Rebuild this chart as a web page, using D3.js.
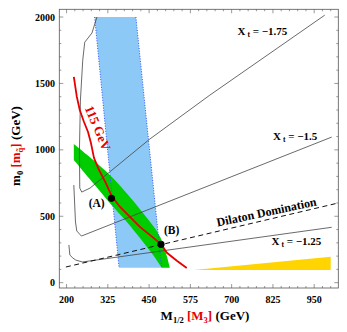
<!DOCTYPE html>
<html>
<head>
<meta charset="utf-8">
<script src="https://cdn.jsdelivr.net/npm/d3@7"></script>
<style>
  body { margin: 0; background: #fff; }
  text { font-family: "Liberation Serif", "Times New Roman", serif; font-weight: bold; }
</style>
</head>
<body>
<svg id="svg"></svg>
<script>

const width = 347;
const height = 332;

// axis ticks
const xTicks = [200, 325, 450, 575, 700, 825, 950];
const yTicks = [0, 500, 1000, 1500, 2000];

// regions (M1/2, m0) in GeV
const blueBand = [[285, 2000], [410, 2000], [488, 112], [359, 112]];
const greenUpper = [[222, 1044], [281, 923], [331, 810], [382, 673], [432, 522], [483, 346], [513, 113]];
const greenLower = [[222, 923], [281, 748], [336, 585], [382, 459], [427, 321], [462, 208], [488, 113]];
const yellowRegion = [[585, 95], [1000, 195], [1000, 95]];

// curves
const higgs115 = [[222, 1550], [231, 1400], [240, 1300], [252, 1215], [265, 1135], [274, 1050], [283, 940],
  [298, 850], [319, 750], [337, 650], [362, 570], [392, 495], [422, 420], [452, 360], [486, 290],
  [504, 225], [534, 165], [564, 110]];
const xt175 = [[292, 2000], [277, 1880], [255, 1810], [249, 1675], [242, 1375], [239, 1000], [240, 712],
  [246, 682], [271, 712], [452, 1081], [634, 1412], [982, 2014]];
const xt150 = [[222, 735], [224, 622], [227, 457], [231, 389], [245, 351], [1003, 1096]];
const xt125 = [[207, 284], [210, 208], [219, 186], [228, 170], [248, 156], [1003, 417]];
const dilaton = [[198, 118], [1018, 597]];

const benchmarks = [["(A)", 336, 635], ["(B)", 486, 289]];

const svg = d3.select("#svg")
  .attr("width", width)
  .attr("height", height);

const x = d3.scaleLinear().domain([178, 1023]).range([59.3, 338.3]);
const y = d3.scaleLinear().domain([-40, 2058]).range([288, 9.3]);

const line = d3.line().x(d => x(d[0])).y(d => y(d[1]));
const smooth = d3.line().x(d => x(d[0])).y(d => y(d[1])).curve(d3.curveCatmullRom);

const plot = svg.append("g");

// blue band
plot.append("path")
  .attr("d", line(blueBand) + "Z")
  .attr("fill", "#8cc9f7");

// green band
const greenPath = smooth(greenUpper) + smooth(greenLower.slice().reverse()).replace(/^M/, "L") + "Z";
plot.append("path")
  .attr("d", greenPath)
  .attr("fill", "#00cc00");

// blue edges dotted
[[blueBand[0], blueBand[3]], [blueBand[1], blueBand[2]]].forEach(seg => {
  plot.append("path")
    .attr("d", line(seg))
    .attr("fill", "none")
    .attr("stroke", "#3355ff")
    .attr("stroke-width", 1)
    .attr("stroke-dasharray", "1,1.6");
});

// yellow
plot.append("path")
  .attr("d", line(yellowRegion) + "Z")
  .attr("fill", "#ffd400");

// X_t contours
[xt175, xt150, xt125].forEach(c => {
  plot.append("path")
    .attr("d", line(c))
    .attr("fill", "none")
    .attr("stroke", "#444")
    .attr("stroke-width", 0.8);
});

// dilaton line
plot.append("path")
  .attr("d", line(dilaton))
  .attr("fill", "none")
  .attr("stroke", "#111")
  .attr("stroke-width", 1)
  .attr("stroke-dasharray", "5,3.5");

// higgs mass line
plot.append("path")
  .attr("d", line(higgs115))
  .attr("fill", "none")
  .attr("stroke", "#e60000")
  .attr("stroke-width", 1.8);

// benchmark points
plot.selectAll("circle")
  .data(benchmarks)
  .enter().append("circle")
  .attr("cx", d => x(d[1]))
  .attr("cy", d => y(d[2]))
  .attr("r", 3.6)
  .attr("fill", "#000");

plot.append("text").attr("x", x(291)).attr("y", y(570))
  .attr("text-anchor", "middle").attr("font-size", 11.5).text("(A)");
plot.append("text").attr("x", x(518)).attr("y", y(363))
  .attr("text-anchor", "middle").attr("font-size", 11.5).text("(B)");

// 115 GeV label
plot.append("text")
  .attr("transform", `translate(${x(295)},${y(1164)}) rotate(67)`)
  .attr("text-anchor", "middle")
  .attr("dominant-baseline", "central")
  .attr("font-size", 13)
  .attr("fill", "#e60000")
  .text("115 GeV");

// dilaton label
plot.append("text")
  .attr("transform", `translate(${x(808)},${y(502)}) rotate(-12)`)
  .attr("text-anchor", "middle")
  .attr("font-size", 12)
  .text("Dilaton Domination");

// X_t labels
const xtLabel = function(mx, my, val) {
  const t = plot.append("text")
    .attr("x", x(mx)).attr("y", y(my))
    .attr("font-size", 11);
  t.append("tspan").text("X");
  t.append("tspan").attr("dx", 2).attr("dy", 2).attr("font-size", 7.5).text("t");
  t.append("tspan").attr("dy", -2).text(" = \u22121." + val);
};
xtLabel(718, 1864, "75");
xtLabel(825, 1074, "5");
xtLabel(821, 284, "25");

// frame and ticks
const frame = svg.append("g");
frame.append("rect")
  .attr("x", x.range()[0]).attr("y", y.range()[1])
  .attr("width", x.range()[1] - x.range()[0])
  .attr("height", y.range()[0] - y.range()[1])
  .attr("fill", "none")
  .attr("stroke", "#555")
  .attr("stroke-width", 0.8);

const xMinor = d3.range(175, 1025, 25).filter(v => v >= x.domain()[0] && v <= x.domain()[1]);
const yMinor = d3.range(0, 2100, 100).filter(v => v <= y.domain()[1]);

xMinor.forEach(v => {
  const len = xTicks.includes(v) ? 4 : 2;
  [[y.range()[0], -len], [y.range()[1], len]].forEach(p => {
    frame.append("line")
      .attr("x1", x(v)).attr("x2", x(v))
      .attr("y1", p[0]).attr("y2", p[0] + p[1])
      .attr("stroke", "#555").attr("stroke-width", 0.6);
  });
});
yMinor.forEach(v => {
  const len = yTicks.includes(v) ? 4 : 2;
  [[x.range()[0], len], [x.range()[1], -len]].forEach(p => {
    frame.append("line")
      .attr("y1", y(v)).attr("y2", y(v))
      .attr("x1", p[0]).attr("x2", p[0] + p[1])
      .attr("stroke", "#555").attr("stroke-width", 0.6);
  });
});

frame.selectAll(".xl")
  .data(xTicks)
  .enter().append("text")
  .attr("x", d => x(d))
  .attr("y", 302.5)
  .attr("text-anchor", "middle")
  .attr("font-size", 10)
  .text(d => d);

frame.selectAll(".yl")
  .data(yTicks)
  .enter().append("text")
  .attr("x", 55)
  .attr("y", d => y(d) + 3.5)
  .attr("text-anchor", "end")
  .attr("font-size", 10)
  .text(d => d);

// axis titles
const xTitle = svg.append("text")
  .attr("x", 205).attr("y", 320)
  .attr("text-anchor", "middle")
  .attr("font-size", 13);
xTitle.append("tspan").text("M");
xTitle.append("tspan").attr("dy", 3).attr("font-size", 8.5).text("1/2");
xTitle.append("tspan").attr("dy", -3).attr("fill", "#e60000").text(" [M");
xTitle.append("tspan").attr("dy", 3).attr("font-size", 8.5).attr("fill", "#e60000").text("3");
xTitle.append("tspan").attr("dy", -3).attr("fill", "#e60000").text("]");
xTitle.append("tspan").text(" (GeV)");

const yTitle = svg.append("text")
  .attr("transform", "translate(20,146) rotate(-90)")
  .attr("text-anchor", "middle")
  .attr("font-size", 13);
yTitle.append("tspan").text("m");
yTitle.append("tspan").attr("dy", 3).attr("font-size", 8.5).text("0");
yTitle.append("tspan").attr("dy", -3).attr("fill", "#e60000").text(" [m");
yTitle.append("tspan").attr("dy", 3).attr("font-size", 8.5).attr("fill", "#e60000").text("q\u0303");
yTitle.append("tspan").attr("dy", -3).attr("fill", "#e60000").text("]");
yTitle.append("tspan").text(" (GeV)");

</script>
</body>
</html>
